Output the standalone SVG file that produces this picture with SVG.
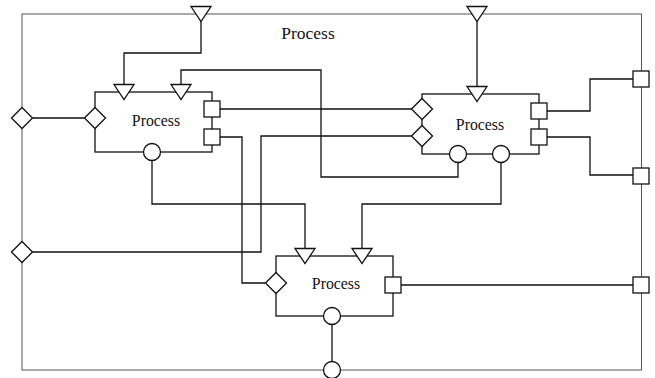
<svg xmlns="http://www.w3.org/2000/svg" width="655" height="378" viewBox="0 0 655 378">
  <style>
    .frame { fill: none; stroke: #555; stroke-width: 1; }
    .box { fill: #fff; stroke: #111; stroke-width: 1.3; }
    .port { fill: #fff; stroke: #111; stroke-width: 1.3; }
    .wire { fill: none; stroke: #111; stroke-width: 1.3; }
    .label { font-family: "Liberation Serif", "Times New Roman", serif; fill: #111; text-anchor: middle; }
  </style>
  <defs>
    <polygon id="tri" points="-10,-7.5 10,-7.5 0,7.5"/>
    <polygon id="dia" points="-10.5,0 0,-10.5 10.5,0 0,10.5"/>
    <rect id="sq" x="-8" y="-8" width="16" height="16"/>
    <circle id="circ" r="8.5"/>
  </defs>
  <rect width="655" height="378" fill="#fff"/>

  <!-- enclosing process -->
  <g id="outer">
    <rect class="frame" x="22" y="14" width="619.5" height="356"/>
    <text class="label" x="308" y="39" font-size="17.5">Process</text>
  </g>

  <!-- connectors -->
  <g id="connectors" class="wire">
    <polyline points="201,21.5 201,53 124,53 124,84.5"/>
    <polyline points="181,84.5 181,70 321,70 321,177 458,177 458,162.5"/>
    <polyline points="220,109 411.5,109"/>
    <polyline points="220,137 242,137 242,283 265.5,283"/>
    <polyline points="32.5,252 261,252 261,136 411.5,136"/>
    <polyline points="152,160.5 152,204 305,204 305,248.5"/>
    <polyline points="32.5,118 84.5,118"/>
    <polyline points="477,21.5 477,86.5"/>
    <polyline points="547,111 590,111 590,79 633.5,79"/>
    <polyline points="547,137 590,137 590,175 633.5,175"/>
    <polyline points="501,162.5 501,204 362,204 362,248.5"/>
    <polyline points="401,285 633.5,285"/>
    <polyline points="332,324.5 332,361.5"/>
  </g>

  <!-- ports on the enclosing process -->
  <g id="outer-ports" class="port">
    <use href="#tri" x="201" y="14"/>
    <use href="#tri" x="477" y="14"/>
    <use href="#dia" x="22" y="118"/>
    <use href="#dia" x="22" y="252"/>
    <use href="#sq" x="641" y="79"/>
    <use href="#sq" x="641" y="176"/>
    <use href="#sq" x="641" y="285"/>
    <use href="#circ" x="332" y="370"/>
  </g>

  <g id="process1">
    <rect class="box" x="95" y="92" width="117" height="60"/>
    <text class="label" x="156" y="126" font-size="15.8">Process</text>
    <g class="port">
      <use href="#tri" x="124" y="92"/>
      <use href="#tri" x="181" y="92"/>
      <use href="#dia" x="95" y="118"/>
      <use href="#sq" x="212" y="109"/>
      <use href="#sq" x="212" y="137"/>
      <use href="#circ" x="152" y="152"/>
    </g>
  </g>

  <g id="process2">
    <rect class="box" x="422" y="94" width="117" height="60"/>
    <text class="label" x="480" y="130" font-size="15.8">Process</text>
    <g class="port">
      <use href="#tri" x="477" y="94"/>
      <use href="#dia" x="422" y="109"/>
      <use href="#dia" x="422" y="136"/>
      <use href="#sq" x="539" y="111"/>
      <use href="#sq" x="539" y="137"/>
      <use href="#circ" x="458" y="154"/>
      <use href="#circ" x="501" y="154"/>
    </g>
  </g>

  <g id="process3">
    <rect class="box" x="276" y="256" width="117" height="60"/>
    <text class="label" x="336" y="289" font-size="15.8">Process</text>
    <g class="port">
      <use href="#tri" x="305" y="256"/>
      <use href="#tri" x="362" y="256"/>
      <use href="#dia" x="276" y="283"/>
      <use href="#sq" x="393" y="285"/>
      <use href="#circ" x="332" y="316"/>
    </g>
  </g>
</svg>
